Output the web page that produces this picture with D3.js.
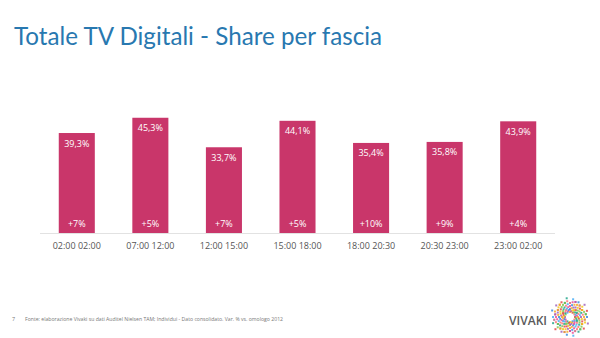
<!DOCTYPE html>
<html><head><meta charset="utf-8">
<script src="https://cdn.jsdelivr.net/npm/d3@7"></script>
<style>body{margin:0;background:#fff}svg{display:block}</style>
</head><body>
<svg id="c" width="600" height="338"></svg>
<script>
const categories = ["02:00 02:00","07:00 12:00","12:00 15:00","15:00 18:00","18:00 20:30","20:30 23:00","23:00 02:00"];
const shareValues = [39.3,45.3,33.7,44.1,35.4,35.8,43.9];
const changeValues = [7,5,7,5,10,9,4];
const titleText = "Totale TV Digitali - Share per fascia";
const footnote = "Fonte: elaborazione Vivaki su dati Auditel Nielsen TAM; Individui - Dato consolidato. Var. % vs. omologo 2012";

const svg = d3.select("#c");
const fmt = v => d3.format(".1f")(v).replace(".", ",") + "%";

svg.append("text").attr("x",14).attr("y",45)
  .attr("font-family","Lato, 'Open Sans', sans-serif").attr("font-size",25)
  .attr("fill","#2878b0").attr("textLength",368).attr("lengthAdjust","spacingAndGlyphs")
  .text(titleText);

const x = d3.scaleBand().domain(categories).range([40,555]).paddingInner(0.51).paddingOuter(0.255);
const y = d3.scaleLinear().domain([0,50]).range([233,105.8]);

const g = svg.append("g");
g.selectAll("rect").data(shareValues).join("rect")
  .attr("x",(d,i)=>x(categories[i])).attr("width",x.bandwidth())
  .attr("y",d=>y(d)).attr("height",d=>y(0)-y(d)).attr("fill","#c9366a");

g.append("line").attr("x1",40).attr("x2",555).attr("y1",y(0)+0.5).attr("y2",y(0)+0.5)
  .attr("stroke","#e2e2e2").attr("stroke-width",1);

g.selectAll("text.v").data(shareValues).join("text").attr("class","v")
  .attr("x",(d,i)=>x(categories[i])+x.bandwidth()/2).attr("y",d=>y(d)+13.5)
  .attr("text-anchor","middle").attr("font-family","'Open Sans', sans-serif").attr("font-size",9)
  .attr("fill","#fff").text(fmt);

g.selectAll("text.c").data(changeValues).join("text").attr("class","c")
  .attr("x",(d,i)=>x(categories[i])+x.bandwidth()/2).attr("y",y(0)-6)
  .attr("text-anchor","middle").attr("font-family","'Open Sans', sans-serif").attr("font-size",9)
  .attr("fill","#fff").text(d=>"+"+d+"%");

const xAxis = d3.axisBottom(x).tickSize(0).tickPadding(10);
const ax = svg.append("g").attr("transform",`translate(0,${y(0)})`).call(xAxis);
ax.select(".domain").remove();
ax.selectAll("text").attr("font-family","'Open Sans', sans-serif").attr("font-size",9).attr("fill","#555");

svg.append("text").attr("x",12).attr("y",321).attr("font-family","'Open Sans', sans-serif")
  .attr("font-size",5.5).attr("fill","#777").text("7");
svg.append("text").attr("x",25).attr("y",321).attr("font-family","'Open Sans', sans-serif")
  .attr("font-size",5.5).attr("fill","#777").attr("textLength",258).attr("lengthAdjust","spacingAndGlyphs")
  .text(footnote);

// logo
svg.append("text").attr("x",509).attr("y",325).attr("font-family","'Open Sans', sans-serif")
  .attr("font-size",13).attr("font-weight",600).attr("fill","#5a5a5a").attr("textLength",38)
  .attr("lengthAdjust","spacingAndGlyphs").text("VIVAKI");
const burstColors = ["#e23b3b","#f7a21b","#3fa9f5","#7ac143","#9b59b6","#e84393","#16a085","#f1c40f","#2e86de","#ff6b6b"];
const burst = svg.append("g").attr("transform","translate(570,317)");
const ang = d3.range(0,360,10);
ang.forEach((a,i)=>{
  [5,8,11,14,17].forEach((r,j)=>{
    const rr = r + ((i*7+j*3)%3) - (j===4 && i%2 ? 3 : 0);
    burst.append("rect").attr("x",rr*Math.cos(a*Math.PI/180)-1).attr("y",rr*Math.sin(a*Math.PI/180)-1)
      .attr("width",2).attr("height",2).attr("fill",burstColors[(i*3+j*7)%burstColors.length]).attr("opacity",0.8);
  });
});
burst.append("circle").attr("r",3.5).attr("fill","#fff");
</script>
</body></html>
